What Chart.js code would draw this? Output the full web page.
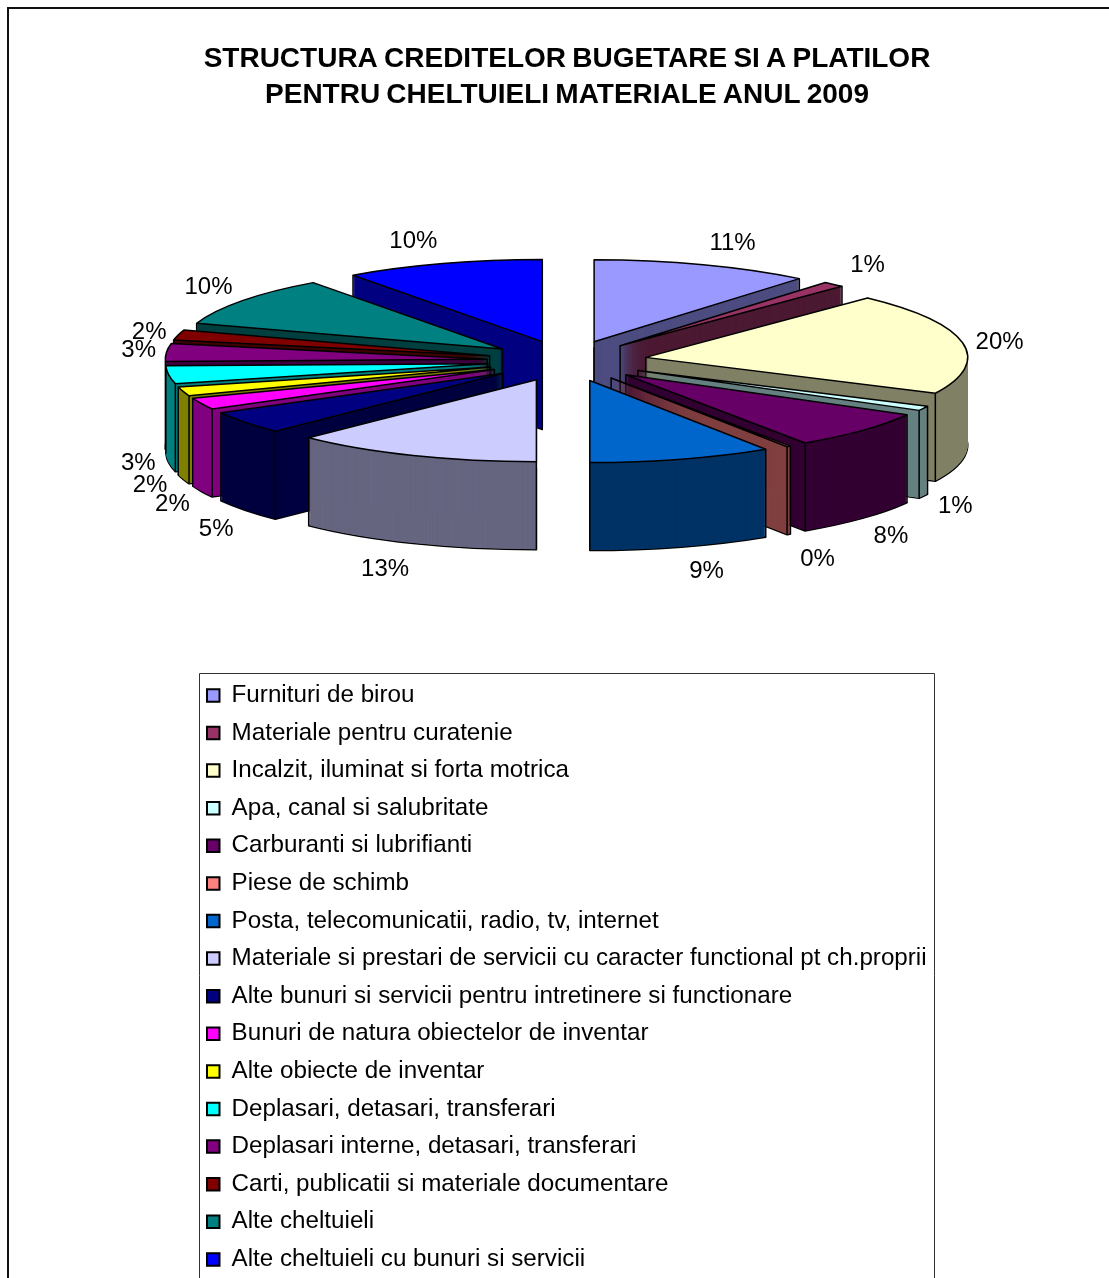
<!DOCTYPE html>
<html>
<head>
<meta charset="utf-8">
<style>html,body{margin:0;padding:0;background:#fff;overflow:hidden}canvas{display:block}</style>
<script src="https://cdn.jsdelivr.net/npm/chart.js@4/dist/chart.umd.min.js"></script>
</head>
<body>
<canvas id="c" width="1109" height="1278"></canvas>
<script>
const titleLines = ["STRUCTURA CREDITELOR BUGETARE SI A PLATILOR", "PENTRU CHELTUIELI MATERIALE ANUL 2009"];
const categories = ["Furnituri de birou","Materiale pentru curatenie","Incalzit, iluminat si forta motrica","Apa, canal si salubritate","Carburanti si lubrifianti","Piese de schimb","Posta, telecomunicatii, radio, tv, internet","Materiale si prestari de servicii cu caracter functional pt ch.proprii","Alte bunuri si servicii pentru intretinere si functionare","Bunuri de natura obiectelor de inventar","Alte obiecte de inventar","Deplasari, detasari, transferari","Deplasari interne, detasari, transferari","Carti, publicatii si materiale documentare","Alte cheltuieli","Alte cheltuieli cu bunuri si servicii"];
const percents = [11, 1.1, 20.1, 0.9, 7.5, 0.2, 9.2, 12.5, 4.5, 2.3, 1.8, 3.49, 3.49, 2, 9.92, 10];
const topColors = ["#9999FF","#993366","#FFFFCC","#CCFFFF","#660066","#FF8080","#0066CC","#CCCCFF","#000080","#FF00FF","#FFFF00","#00FFFF","#800080","#800000","#008080","#0000FF"];
const wallColors = ["#4D4D80","#4D1A33","#808066","#668080","#330033","#804040","#003366","#666680","#000040","#800080","#808000","#008080","#400040","#400000","#004040","#000080"];
const labelNudgeX = [8,-8,-25,-24,-18,-6,7,-4,21,28,27,32,35,32,17,-10];
const labelNudgeY = [-8,-9,1,2,7,12,9,11,9,5,1,-2,-2,0,-6,-9];

const pieGeom = {cx:567, cy:361, radius:322, squash:0.2547, explode:80, depth:88, labelR:465, labelSquash:0.252};
const LEFT=199, RIGHT=934, TOP=673;

const pie3d = {
  id:'pie3d',
  afterLayout(chart){
    const t = chart.titleBlock;
    t.left = 0; t.right = 2*pieGeom.cx; t.top = 41.5;
    if(!t._spaced){
      const d = t.draw;
      t.draw = function(){ chart.ctx.wordSpacing='-1.6px'; d.call(this); chart.ctx.wordSpacing='0px'; };
      t._spaced = true;
    }
    const l = chart.legend;
    const pad = l.options.labels.padding;
    l.left = 207 - pad; l.right = 1100; l.top = 683.3 - pad; l.bottom = 1400;
  },
  beforeDraw(chart){
    const c = chart.ctx;
    c.save();
    c.strokeStyle = '#111'; c.lineWidth = 2;
    c.beginPath(); c.moveTo(8,1278); c.lineTo(8,8); c.lineTo(1109,8); c.stroke();
    c.strokeStyle = '#333'; c.lineWidth = 1;
    c.beginPath(); c.moveTo(LEFT+.5,1278); c.lineTo(LEFT+.5,TOP+.5); c.lineTo(RIGHT+.5,TOP+.5); c.lineTo(RIGHT+.5,1278); c.stroke();
    c.restore();
  },
  beforeDatasetDraw(chart,args){
    const c = chart.ctx, g = pieGeom, meta = args.meta;
    const items = meta.data.map((el,i)=>({el,i,mid:(el.startAngle+el.endAngle)/2}));
    items.sort((a,b)=>Math.sin(a.mid)-Math.sin(b.mid));
    const nativeStroke = CanvasRenderingContext2D.prototype.stroke;
    // keep the outline one device-width thick under the squashed transform
    c.stroke = function(){
      const m = c.getTransform();
      c.setTransform(1,0,0,1,0,0);
      nativeStroke.call(c);
      c.setTransform(m);
    };
    const drawArc = (it,opts,dy)=>{
      const el = it.el;
      const ax = g.cx + Math.cos(it.mid)*g.explode;
      const ay = g.cy + Math.sin(it.mid)*g.explode*g.squash + dy;
      const e = Object.create(el);
      e.options = Object.assign({},el.options,opts);
      c.save();
      c.translate(ax,ay);
      c.scale(1,g.squash);
      c.translate(-el.x,-el.y);
      e.draw(c);
      c.restore();
    };
    for(const it of items){
      const el = it.el, wall = wallColors[it.i], top = topColors[it.i];
      drawArc(it,{backgroundColor:wall,borderColor:'#000',borderWidth:1.5,borderJoinStyle:'round'},g.depth);
      for(let d=g.depth-0.5;d>0;d-=0.5) drawArc(it,{backgroundColor:wall,borderWidth:0},d);
      const ax = g.cx + Math.cos(it.mid)*g.explode;
      const ay = g.cy + Math.sin(it.mid)*g.explode*g.squash;
      const rimPoint = a=>[ax+Math.cos(a)*el.outerRadius, ay+Math.sin(a)*el.outerRadius*g.squash];
      const edges = [[ax,ay]];
      const visible = (a,isEnd)=> Math.sin(a)>=-0.001 || (Math.cos(a)>0 ? isEnd : !isEnd);
      if(visible(el.startAngle,false)) edges.push(rimPoint(el.startAngle));
      if(visible(el.endAngle,true)) edges.push(rimPoint(el.endAngle));
      c.save();
      c.strokeStyle='#000'; c.lineWidth=1.5;
      c.beginPath();
      for(const p of edges){ c.moveTo(p[0],p[1]); c.lineTo(p[0],p[1]+g.depth); }
      c.stroke();
      c.restore();
      drawArc(it,{backgroundColor:top,borderColor:'#000',borderWidth:1.5,borderJoinStyle:'round'},0);
    }
    delete c.stroke;
    // percent labels
    c.save();
    c.fillStyle='#000'; c.font='24px "Liberation Sans", Arial, sans-serif';
    c.textAlign='center'; c.textBaseline='middle';
    meta.data.forEach((el,i)=>{
      const mid=(el.startAngle+el.endAngle)/2;
      const s=Math.sin(mid);
      const x=g.cx+Math.cos(mid)*g.labelR+labelNudgeX[i];
      const y=g.cy+s*g.labelR*g.labelSquash+(s>0?g.depth:0)+labelNudgeY[i]+1;
      c.fillText(Math.round(percents[i])+'%',x,y);
    });
    c.restore();
    return false;
  }
};

new Chart(document.getElementById('c'),{
  type:'pie',
  data:{labels:categories,datasets:[{data:percents,backgroundColor:topColors,borderColor:'#000',borderWidth:1.5}]},
  plugins:[pie3d],
  options:{
    responsive:false,
    animation:false,
    radius:pieGeom.radius,
    plugins:{
      tooltip:{enabled:false},
      title:{display:true,text:titleLines,color:'#000',padding:0,font:{family:'"Liberation Sans", Arial, sans-serif',size:28,weight:'bold',lineHeight:36/28}},
      legend:{
        position:'left',align:'start',
        labels:{
          color:'#000',boxWidth:12.5,boxHeight:12.5,padding:13.4,
          font:{family:'"Liberation Sans", Arial, sans-serif',size:24.2,lineHeight:1},
          generateLabels(chart){
            return Chart.overrides.doughnut.plugins.legend.labels.generateLabels(chart).map(it=>Object.assign(it,{lineWidth:2,strokeStyle:'#000'}));
          }
        }
      }
    }
  }
});
</script>
</body>
</html>
